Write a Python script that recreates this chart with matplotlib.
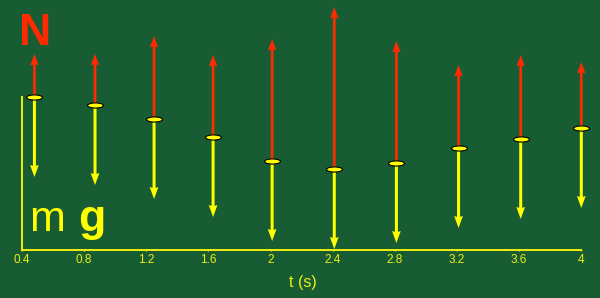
import numpy as np
import matplotlib.pyplot as plt
from matplotlib.path import Path
from matplotlib.transforms import Affine2D

plt.rcParams['font.family'] = ['Liberation Sans', 'DejaVu Sans']

# time of each snapshot (s), height of the body, size of the normal force
t = [0.48, 0.87, 1.25, 1.63, 2.01, 2.41, 2.81, 3.21, 3.61, 4.0]
height = [153, 145, 131, 113, 89, 81, 87, 102, 111, 122]
normal = [43, 51, 83, 82, 122, 162, 122, 83, 84, 66]
mg = 80  # weight stays the same

tick_values = [0.4, 0.8, 1.2, 1.6, 2, 2.4, 2.8, 3.2, 3.6, 4]
tick_labels = ['0.4', '0.8', '1.2', '1.6', '2', '2.4', '2.8', '3.2', '3.6', '4']

bg = '#185c34'
yellow = '#ffff00'
axis_yellow = '#eeee10'
red = '#ff2a00'

fig = plt.figure(figsize=(6, 2.98), dpi=100, facecolor=bg,
                 edgecolor='#0c3319', linewidth=1.5)
ax = fig.add_axes([0, 0, 1, 1], facecolor=bg)
ax.set_xlim(0.2584, 4.1204)
ax.set_ylim(-48, 250)

zeros = np.zeros(len(t))
ax.quiver(t, height, zeros, normal, color=red, angles='xy', scale_units='xy',
          scale=1, width=0.0045, headwidth=3.1, headlength=4.2,
          headaxislength=3.9, zorder=2)
ax.quiver(t, height, zeros, -mg * np.ones(len(t)), color=yellow, angles='xy',
          scale_units='xy', scale=1, width=0.0050, headwidth=2.9,
          headlength=4.0, headaxislength=3.7, zorder=2)

# flat disc marking the body
disc = Affine2D().scale(1, 0.32).transform_path(Path.unit_circle())
ax.plot(t, height, ls='none', marker=disc, markersize=11.5,
        markerfacecolor=yellow, markeredgecolor='black', markeredgewidth=0.8,
        zorder=3)

for side in ['top', 'right']:
    ax.spines[side].set_visible(False)
ax.spines['left'].set_position(('data', 0.4))
ax.spines['bottom'].set_position(('data', 0))
ax.spines['left'].set_bounds(0, max(height))
ax.spines['bottom'].set_bounds(0.4, 4)
for side in ['left', 'bottom']:
    ax.spines[side].set_color(axis_yellow)
    ax.spines[side].set_linewidth(1.4)

ax.set_yticks([])
ax.set_xticks(tick_values)
ax.set_xticklabels(tick_labels)
ax.tick_params(axis='x', colors=axis_yellow, labelsize=8.5, length=2,
               width=1, direction='inout', pad=2.0)

fig.text(303 / 600, 1 - 287 / 298, 't (s)', color=axis_yellow, fontsize=11.5,
         ha='center', va='baseline')
fig.text(19 / 600, 1 - 45 / 298, 'N', color=red, fontsize=32,
         fontweight='bold', va='baseline')
fig.text(29 / 600, 1 - 231 / 298, 'm', color=yellow, fontsize=31,
         va='baseline')
fig.text(78 / 600, 1 - 231 / 298, 'g', color=yellow, fontsize=32,
         fontweight='bold', va='baseline')

fig.savefig('out.png', dpi=100, facecolor=bg, edgecolor='#0c3319')
